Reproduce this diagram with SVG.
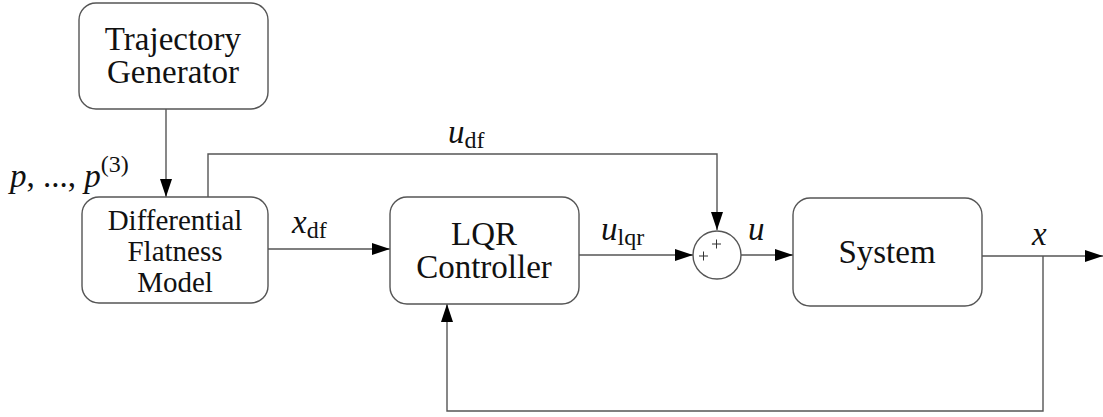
<svg xmlns="http://www.w3.org/2000/svg" width="1103" height="417" viewBox="0 0 1103 417">
<style>
.box{fill:#fff;stroke:#555;stroke-width:1.4}
.ln{fill:none;stroke:#555;stroke-width:1.4}
text{font-family:'Liberation Serif','Times New Roman',Tinos,'Nimbus Roman','Noto Serif','DejaVu Serif',FreeSerif,serif;fill:#111}
.t{font-size:33px;text-anchor:middle}
.d{font-size:29px;text-anchor:middle}
.m{font-size:33px;font-style:italic}
.s{font-style:normal;font-size:24px}
.pl{stroke:#333;stroke-width:1}
</style>
<defs>
<marker id="ah" viewBox="0 0 18 12" refX="18" refY="6" markerWidth="18" markerHeight="12" markerUnits="userSpaceOnUse" orient="auto">
<path d="M0,0 L18,6 L0,12 Z" fill="#000"/>
</marker>
</defs>
<rect width="1103" height="417" fill="#fff"/>
<g id="connectors">
<path class="ln" d="M166,109 V197" marker-end="url(#ah)"/>
<path class="ln" d="M208,197 V154 H717 V230" marker-end="url(#ah)"/>
<path class="ln" d="M268,249 H390" marker-end="url(#ah)"/>
<path class="ln" d="M579,255 H693" marker-end="url(#ah)"/>
<path class="ln" d="M741,255 H793" marker-end="url(#ah)"/>
<path class="ln" d="M982,256 H1103" marker-end="url(#ah)"/>
<path class="ln" d="M1043,256 V411 H447 V304" marker-end="url(#ah)"/>
</g>
<g id="traj">
<rect class="box" x="79" y="3" width="189" height="106" rx="17"/>
<text class="t" x="173" y="50">Trajectory</text>
<text class="t" x="173" y="83">Generator</text>
</g>
<g id="dfm">
<rect class="box" x="82" y="197" width="186" height="106" rx="17"/>
<text class="d" x="175" y="230">Differential</text>
<text class="d" x="175" y="261">Flatness</text>
<text class="d" x="175" y="292">Model</text>
</g>
<g id="lqr">
<rect class="box" x="390" y="197" width="189" height="107" rx="17"/>
<text class="t" x="484" y="245">LQR</text>
<text class="t" x="484" y="278">Controller</text>
</g>
<g id="sum">
<circle class="box" cx="717" cy="255" r="24"/>
<path class="pl" d="M699,256 H708 M703.5,251.5 V260.5 M712,244 H721 M716.5,239.5 V248.5"/>
</g>
<g id="system">
<rect class="box" x="793" y="198" width="189" height="108" rx="17"/>
<text class="t" x="887" y="263">System</text>
</g>
<g id="labels">
<text class="m" x="10" y="187">p<tspan font-style="normal">, ..., </tspan>p<tspan class="s" dy="-15">(3)</tspan></text>
<text class="m" x="448" y="143">u<tspan class="s" dy="5">df</tspan></text>
<text class="m" x="292" y="233">x<tspan class="s" dy="5">df</tspan></text>
<text class="m" x="601" y="240">u<tspan class="s" dy="5">lqr</tspan></text>
<text class="m" x="748" y="240">u</text>
<text class="m" x="1032" y="245">x</text>
</g>
</svg>
